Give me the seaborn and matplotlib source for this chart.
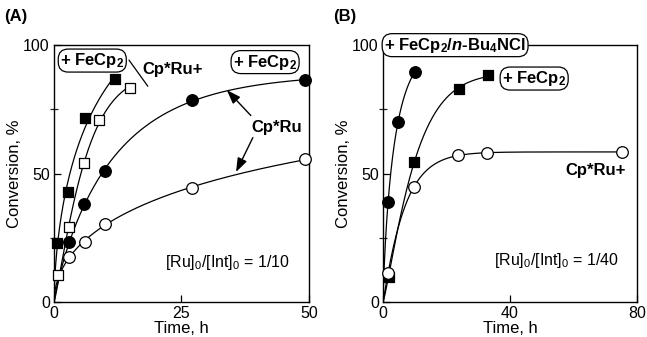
import numpy as np
import matplotlib
matplotlib.use('Agg')
import matplotlib.pyplot as plt
import seaborn as sns

# ---- data ----
# panel A, [Ru]0/[Int]0 = 1/10
a_fesq_t = [0.6, 2.8, 6.0, 12.0]            # Cp*Ru+ + FeCp2 (filled squares)
a_fesq_y = [23.0, 43.0, 71.5, 87.0]
a_sq_t = [0.8, 3.0, 5.9, 8.8, 15.0]         # Cp*Ru+ (open squares)
a_sq_y = [10.5, 29.0, 54.0, 71.0, 83.5]
a_fecirc_t = [3.0, 5.9, 10.0, 27.0, 49.3]   # Cp*Ru + FeCp2 (filled circles)
a_fecirc_y = [23.5, 38.0, 51.0, 78.5, 86.5]
a_circ_t = [3.0, 6.1, 10.0, 27.0, 49.3]     # Cp*Ru (open circles)
a_circ_y = [17.5, 23.5, 30.5, 44.5, 55.5]

# panel B, [Ru]0/[Int]0 = 1/40
b_bu4_t = [1.6, 4.7, 10.0]                  # + FeCp2/n-Bu4NCl (filled circles)
b_bu4_y = [39.0, 70.0, 89.5]
b_fesq_t = [1.8, 9.8, 24.0, 33.0]           # + FeCp2 (filled squares)
b_fesq_y = [9.8, 54.5, 83.0, 88.3]
b_circ_t = [1.6, 9.8, 23.6, 32.8, 75.3]     # Cp*Ru+ (open circles)
b_circ_y = [11.2, 44.8, 57.2, 58.0, 58.5]

A_XTICKS = [0, 25, 50]
B_XTICKS = [0, 40, 80]
YTICKS = [0, 50, 100]

sns.set_theme(style='ticks')
plt.rcParams['font.family'] = ['Liberation Sans', 'DejaVu Sans']
plt.rcParams['text.color'] = 'black'
plt.rcParams['axes.labelcolor'] = 'black'
plt.rcParams['mathtext.fontset'] = 'custom'
plt.rcParams['mathtext.default'] = 'regular'
plt.rcParams['mathtext.rm'] = 'Liberation Sans'
plt.rcParams['mathtext.it'] = 'Liberation Sans:italic:bold'
plt.rcParams['mathtext.bf'] = 'Liberation Sans:bold'

FS = 12


def fit_curve(t, y):
    """Least-squares fit of y = a(1 - exp(-k t^p)) by scanning k and p."""
    t, y = np.asarray(t), np.asarray(y)
    best = None
    for p in np.linspace(0.4, 1.6, 61):
        tp = t ** p
        for k in np.geomspace(0.002, 3.0, 400):
            f = 1 - np.exp(-k * tp)
            a = (f @ y) / (f @ f)
            err = ((a * f - y) ** 2).sum()
            if best is None or err < best[0]:
                best = (err, a, k, p)
    _, a, k, p = best
    tt = np.linspace(0, t.max(), 300)
    return tt, a * (1 - np.exp(-k * tt ** p))


def draw_series(ax, t, y, marker, filled):
    tt, yy = fit_curve(t, y)
    sns.lineplot(x=tt, y=yy, color='black', linewidth=0.9, sort=False,
                 estimator=None, ax=ax, zorder=2)
    sns.scatterplot(x=t, y=y, marker=marker, s=70 if marker == 'o' else 58,
                    color='black' if filled else 'white', edgecolor='black',
                    linewidth=0.9, ax=ax, zorder=4, clip_on=False)


def style_axes(ax, xticks, xmax):
    ax.set_xlim(0, xmax)
    ax.set_ylim(0, 100)
    ax.set_xticks(xticks)
    ax.set_yticks(YTICKS)
    ax.set_yticks([25, 75], minor=True)
    ax.tick_params(which='major', direction='in', length=5, width=0.9,
                   labelsize=11.5, pad=3, colors='black')
    ax.tick_params(which='minor', direction='inout', length=6, width=0.9, left=True)
    for s in ax.spines.values():
        s.set_visible(True)
        s.set_color('black')
        s.set_linewidth(1.0)
    ax.set_xlabel('Time, h', fontsize=FS, labelpad=0)
    ax.set_ylabel('Conversion, %', fontsize=FS, labelpad=1)


fig = plt.figure(figsize=(6.47, 3.37), dpi=100)
axA = fig.add_axes([0.0835, 0.104, 0.394, 0.762])
axB = fig.add_axes([0.592, 0.104, 0.3926, 0.762])

pill = dict(boxstyle='round,pad=0.12,rounding_size=0.6', fc='white', ec='black', lw=0.9)

# ---- panel A ----
draw_series(axA, a_fesq_t, a_fesq_y, 's', True)
draw_series(axA, a_sq_t, a_sq_y, 's', False)
draw_series(axA, a_fecirc_t, a_fecirc_y, 'o', True)
draw_series(axA, a_circ_t, a_circ_y, 'o', False)
style_axes(axA, A_XTICKS, 50)

axA.text(7.5, 94, '+ FeCp$_2$', fontsize=FS, weight='bold', ha='center', va='center', bbox=pill)
axA.text(41.4, 93.4, '+ FeCp$_2$', fontsize=FS, weight='bold', ha='center', va='center', bbox=pill)
axA.plot([14.7, 18.4], [94.2, 84.0], color='black', lw=0.9)
axA.text(23.3, 90.7, 'Cp*Ru+', fontsize=FS, weight='bold', ha='center', va='center')
axA.text(43.7, 68, 'Cp*Ru', fontsize=FS, weight='bold', ha='center', va='center')
arrow = dict(arrowstyle='-|>,head_length=0.7,head_width=0.25', color='black', lw=1.0,
             mutation_scale=12, shrinkA=0, shrinkB=0)
axA.annotate('', xy=(33.9, 82.5), xytext=(38.6, 72.6), arrowprops=arrow)
axA.annotate('', xy=(35.7, 50.6), xytext=(39.0, 64.0), arrowprops=arrow)
axA.text(34, 15.5, '[Ru]$_0$/[Int]$_0$ = 1/10', fontsize=11.5, ha='center', va='center')

# ---- panel B ----
draw_series(axB, b_bu4_t, b_bu4_y, 'o', True)
draw_series(axB, b_fesq_t, b_fesq_y, 's', True)
draw_series(axB, b_circ_t, b_circ_y, 'o', False)
style_axes(axB, B_XTICKS, 80)

axB.text(22.7, 100, r'+ FeCp$_2$/$\mathit{n}$-Bu$_4$NCl', fontsize=FS, weight='bold',
         ha='center', va='center', bbox=pill, zorder=5, clip_on=False)
axB.text(47.6, 87, '+ FeCp$_2$', fontsize=FS, weight='bold', ha='center', va='center', bbox=pill)
axB.text(66.8, 51, 'Cp*Ru+', fontsize=FS, weight='bold', ha='center', va='center')
axB.text(54.5, 16, '[Ru]$_0$/[Int]$_0$ = 1/40', fontsize=11.5, ha='center', va='center')

fig.text(0.006, 0.95, '(A)', fontsize=12, weight='bold', ha='left', va='center')
fig.text(0.515, 0.95, '(B)', fontsize=12, weight='bold', ha='left', va='center')

fig.savefig('out.png', dpi=100)
